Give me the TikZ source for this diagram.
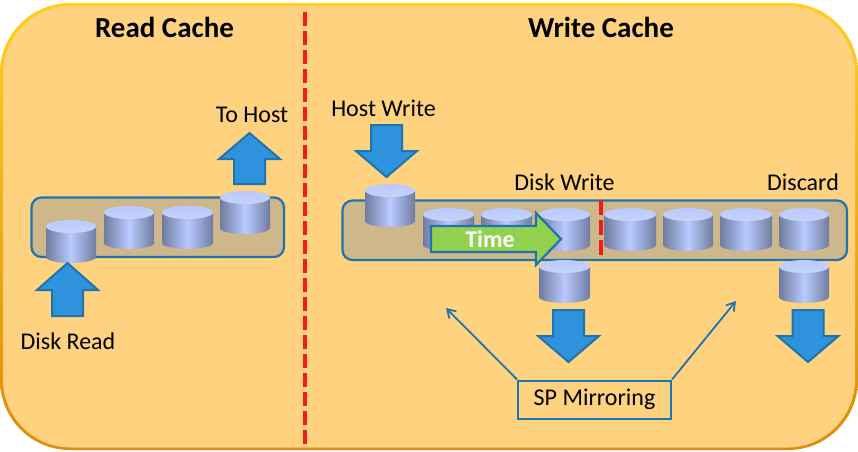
\documentclass[tikz,border=0pt]{standalone}
\usepackage{fontspec}
\setmainfont{Carlito}
\usetikzlibrary{arrows.meta}
\definecolor{panelfill}{HTML}{FFD280}
\definecolor{rimtop}{HTML}{FFCF20}
\definecolor{rimbottom}{HTML}{E08A0A}
\definecolor{tray}{HTML}{CFB78C}
\definecolor{edgeblue}{HTML}{1F74AE}
\definecolor{flowblue}{HTML}{2E92DC}
\definecolor{timegreen}{HTML}{92D050}
\definecolor{diskdark}{HTML}{6F7CA0}
\definecolor{disklight}{HTML}{B9CAFF}
\definecolor{disktop}{HTML}{C6D3F8}
\definecolor{cutred}{HTML}{EE1C1C}
\tikzset{
  trayshape/.style={draw=edgeblue,line width=2.2pt,fill=tray,rounded corners=10pt},
  flowarrow/.style={draw=edgeblue,line width=2pt,fill=flowblue,line join=miter},
  timearrow/.style={draw=edgeblue,line width=2.2pt,fill=timegreen,line join=miter},
  cutline/.style={draw=cutred,line width=4pt,dash pattern=on 14pt off 5pt},
  pointer/.style={draw=edgeblue,line width=1.8pt,-{Straight Barb[length=8pt,width=10pt,line width=1.8pt]}},
  heading/.style={font=\fontsize{29}{33}\selectfont\bfseries,text=black,inner sep=0pt},
  caption/.style={font=\fontsize{24}{28}\selectfont,text=black,inner sep=0pt},
}
% One disk: left edge, top edge, width
\newcommand{\diskat}[3]{%
  \pgfmathsetmacro{\xa}{#1}\pgfmathsetmacro{\xb}{#1+#3}%
  \pgfmathsetmacro{\xm}{#1+#3/2}\pgfmathsetmacro{\rx}{#3/2}%
  \pgfmathsetmacro{\yt}{#2+6.5}\pgfmathsetmacro{\yb}{#2+37}%
  \shade[left color=diskdark,right color=diskdark,middle color=disklight]
    (\xa,\yt) -- (\xa,\yb) arc[start angle=180,end angle=0,x radius=\rx,y radius=6]
    -- (\xb,\yt) -- cycle;
  \shade[top color=disklight,bottom color=disktop]
    (\xm,\yt) ellipse[x radius=\rx,y radius=6.5];
}
% Block arrows: shaft centre x, tail y, head base y, tip y
\newcommand{\blockarrow}[4]{%
  \draw[flowarrow] ({#1-15.5},#2) -- ({#1-15.5},#3) -- ({#1-30.5},#3) -- (#1,#4)
    -- ({#1+30.5},#3) -- ({#1+15.5},#3) -- ({#1+15.5},#2) -- cycle;
}
\begin{document}
\begin{tikzpicture}[x=1pt,y=-1pt]
\useasboundingbox (0,0) rectangle (858,451);
% Outer panel: a shaded rim under the flat fill
\shade[top color=rimtop,bottom color=rimbottom,rounded corners=70pt]
  (0,3) rectangle (858,450);
\fill[panelfill,rounded corners=68pt] (3,6) rectangle (855,447.5);
% Divider between the two caches
\draw[cutline] (305,12) -- (305,448);
\node[heading] (readtitle) at (164.5,27) {Read Cache};
\node[heading] (writetitle) at (601,27) {Write Cache};
% Read cache
\draw[trayshape] (31.5,197.5) rectangle (284,257);
\diskat{104}{206}{50}
\diskat{162}{206}{51}
\diskat{220}{191}{50}
\diskat{46}{220}{50}
\blockarrow{67.5}{316}{290}{263}
\blockarrow{249.5}{184}{159}{133}
\node[caption] (diskread) at (68,341) {Disk Read};
\node[caption] (tohost) at (252,115) {To Host};
% Write cache
\draw[trayshape] (342.5,200.5) rectangle (847,260);
\diskat{365}{184}{50}
\diskat{423}{208}{51}
\diskat{481}{208}{51}
\diskat{539}{208}{51}
\diskat{604}{208}{52}
\diskat{663}{208}{50}
\diskat{720}{208}{52}
\diskat{779}{208}{50}
\diskat{539}{260}{51}
\diskat{779}{260}{50}
\draw[cutline,dash pattern=on 15pt off 5pt] (601,200) -- (601,258);
\draw[timearrow] (431,226) -- (536,226) -- (536,213) -- (561,239) -- (536,265)
  -- (536,252) -- (431,252) -- cycle;
\node[font=\fontsize{24}{28}\selectfont\bfseries,text=white,inner sep=0pt] (timelabel) at (490,239) {Time};
\blockarrow{386.5}{125}{151}{177}
\blockarrow{568.5}{310}{336}{362}
\blockarrow{808}{310}{336}{362}
\node[caption] (hostwrite) at (383.5,108) {Host Write};
\node[caption] (diskwrite) at (564.5,182) {Disk Write};
\node[caption] (discard) at (803,182) {Discard};
% Mirroring callout
\node[draw=edgeblue,line width=2pt,minimum width=153pt,minimum height=38pt,inner sep=0pt,
  font=\fontsize{24}{28}\selectfont] (mirror) at (594.5,399.5) {SP Mirroring};
\coordinate (mirrorleft) at (446,308);
\coordinate (mirrorright) at (736,301);
\draw[pointer] (mirror.north west) -- (mirrorleft);
\draw[pointer] (mirror.north east) -- (mirrorright);
\end{tikzpicture}
\end{document}
